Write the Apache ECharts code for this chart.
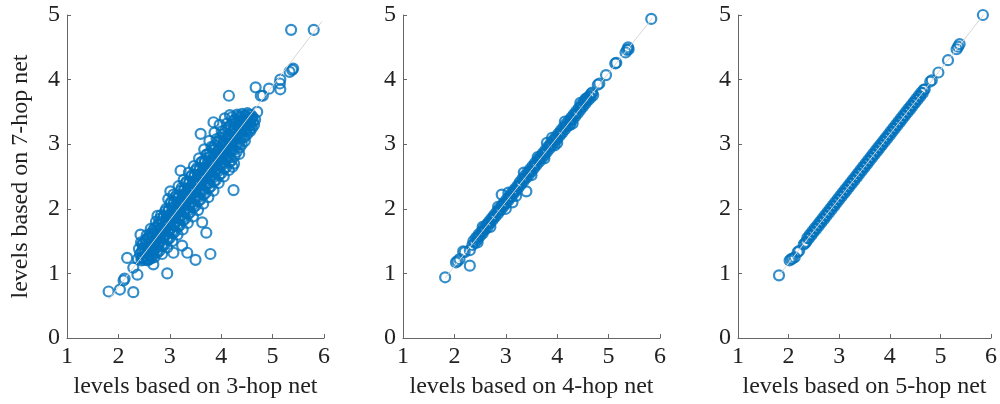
<!DOCTYPE html>
<html lang="en">
<head>
  <meta charset="UTF-8">
  <title>hop levels</title>
  <style>
    html, body { margin: 0; padding: 0; background: #fff; }
    #main { width: 1000px; height: 404px; }
  </style>
</head>
<body>
  <div id="main"></div>
  <script src="https://cdn.jsdelivr.net/npm/echarts@6/dist/echarts.min.js"></script>
  <script>
    // levels: 3-hop net (x) vs 7-hop net (y)
    var hop3Pts = [
      [1.81, 0.72], [2.03, 0.75], [2.10, 0.89], [2.12, 0.92], [2.29, 0.71], [2.37, 0.98], [2.29, 1.09], [2.17, 1.24],
      [2.68, 1.14], [2.95, 1.00], [3.07, 1.32], [3.24, 1.43], [3.34, 1.32], [3.50, 1.21], [3.79, 1.30], [3.71, 1.63],
      [3.63, 1.79], [2.43, 1.60], [2.76, 1.89], [3.01, 2.27], [3.21, 2.59], [4.22, 2.65], [4.24, 2.29], [3.60, 3.16],
      [3.85, 3.34], [4.15, 3.75], [4.70, 3.50], [4.67, 3.88], [4.77, 3.75], [4.81, 3.75], [4.93, 3.86], [5.15, 3.85],
      [5.14, 3.94], [5.15, 4.00], [5.33, 4.12], [5.38, 4.15], [5.40, 4.17], [5.36, 4.77], [5.80, 4.77],
      [2.38, 1.22], [2.42, 1.30], [2.45, 1.20], [2.40, 1.38], [2.47, 1.25],
      [2.50, 1.21], [2.52, 1.33], [2.48, 1.45], [2.55, 1.27], [2.53, 1.52], [2.57, 1.20], [2.50, 1.40],
      [2.60, 1.22], [2.62, 1.35], [2.58, 1.55], [2.65, 1.28], [2.61, 1.47], [2.64, 1.62], [2.66, 1.40], [2.59, 1.30],
      [2.70, 1.25], [2.72, 1.38], [2.68, 1.62], [2.74, 1.50], [2.71, 1.70], [2.76, 1.32], [2.69, 1.45], [2.73, 1.58],
      [2.80, 1.35], [2.82, 1.50], [2.78, 1.75], [2.84, 1.62], [2.81, 1.85], [2.86, 1.42], [2.79, 1.58], [2.83, 1.70], [2.85, 1.30],
      [2.90, 1.45], [2.92, 1.60], [2.88, 1.88], [2.94, 1.72], [2.91, 1.96], [2.96, 1.52], [2.89, 1.68], [2.93, 1.82], [2.95, 1.40],
      [3.00, 1.55], [3.02, 1.70], [2.98, 1.98], [3.04, 1.82], [3.01, 2.08], [3.06, 1.62], [2.99, 1.78], [3.03, 1.92], [3.05, 1.50], [2.97, 2.15],
      [3.10, 1.65], [3.12, 1.80], [3.08, 2.10], [3.14, 1.93], [3.11, 2.18], [3.16, 1.72], [3.09, 1.88], [3.13, 2.02], [3.15, 1.60], [3.07, 2.22],
      [3.20, 1.75], [3.22, 1.90], [3.18, 2.20], [3.24, 2.03], [3.21, 2.28], [3.26, 1.82], [3.19, 1.98], [3.23, 2.12], [3.25, 1.68], [3.17, 2.35],
      [3.30, 1.85], [3.32, 2.00], [3.28, 2.30], [3.34, 2.13], [3.31, 2.40], [3.36, 1.92], [3.29, 2.08], [3.33, 2.22], [3.35, 1.78], [3.27, 2.45],
      [3.40, 1.95], [3.42, 2.10], [3.38, 2.42], [3.44, 2.24], [3.41, 2.50], [3.46, 2.02], [3.39, 2.18], [3.43, 2.33], [3.45, 1.88], [3.37, 2.56],
      [3.50, 2.05], [3.52, 2.20], [3.48, 2.52], [3.54, 2.35], [3.51, 2.60], [3.56, 2.12], [3.49, 2.28], [3.53, 2.44], [3.55, 1.98], [3.47, 2.66],
      [3.60, 2.15], [3.62, 2.30], [3.58, 2.62], [3.64, 2.45], [3.61, 2.72], [3.66, 2.22], [3.59, 2.38], [3.63, 2.54], [3.65, 2.08], [3.57, 2.78],
      [3.70, 2.25], [3.72, 2.40], [3.68, 2.74], [3.74, 2.55], [3.71, 2.84], [3.76, 2.32], [3.69, 2.48], [3.73, 2.64], [3.75, 2.18], [3.67, 2.92],
      [3.80, 2.35], [3.82, 2.52], [3.78, 2.86], [3.84, 2.66], [3.81, 2.96], [3.86, 2.42], [3.79, 2.58], [3.83, 2.76], [3.85, 2.28], [3.77, 3.05],
      [3.90, 2.45], [3.92, 2.62], [3.88, 2.98], [3.94, 2.76], [3.91, 3.08], [3.96, 2.52], [3.89, 2.68], [3.93, 2.88], [3.95, 2.40], [3.87, 3.18],
      [4.00, 2.55], [4.02, 2.72], [3.98, 3.10], [4.04, 2.86], [4.01, 3.20], [4.06, 2.62], [3.99, 2.78], [4.03, 3.00], [4.05, 2.50], [3.97, 3.30],
      [4.10, 2.65], [4.12, 2.82], [4.08, 3.22], [4.14, 2.96], [4.11, 3.32], [4.16, 2.72], [4.09, 2.90], [4.13, 3.10], [4.15, 2.60], [4.07, 3.40],
      [4.20, 2.75], [4.22, 2.92], [4.18, 3.30], [4.24, 3.06], [4.21, 3.42], [4.26, 2.82], [4.19, 3.00], [4.23, 3.20], [4.25, 2.70], [4.17, 3.45],
      [4.30, 2.88], [4.32, 3.02], [4.28, 3.38], [4.34, 3.16], [4.31, 3.46], [4.36, 2.95], [4.29, 3.10], [4.33, 3.28], [4.35, 2.85],
      [4.40, 3.00], [4.42, 3.12], [4.38, 3.42], [4.44, 3.26], [4.41, 3.47], [4.46, 3.05], [4.39, 3.20], [4.43, 3.35],
      [4.50, 3.15], [4.52, 3.25], [4.48, 3.44], [4.54, 3.35], [4.51, 3.48], [4.56, 3.20], [4.49, 3.30],
      [4.60, 3.25], [4.62, 3.35], [4.58, 3.45], [4.64, 3.30], [4.61, 3.42], [4.66, 3.38],
      // second layer filling the dense core
      [2.45, 1.24], [2.46, 1.35], [2.44, 1.48],
      [2.55, 1.22], [2.56, 1.39], [2.54, 1.49], [2.55, 1.59],
      [2.65, 1.24], [2.66, 1.36], [2.64, 1.49], [2.65, 1.59], [2.63, 1.69],
      [2.75, 1.35], [2.76, 1.47], [2.74, 1.60], [2.75, 1.70], [2.73, 1.80],
      [2.85, 1.45], [2.86, 1.57], [2.84, 1.70], [2.85, 1.80], [2.83, 1.90],
      [2.95, 1.55], [2.96, 1.67], [2.94, 1.80], [2.95, 1.90], [2.93, 2.00],
      [3.05, 1.66], [3.06, 1.78], [3.04, 1.91], [3.05, 2.01], [3.03, 2.11],
      [3.15, 1.76], [3.16, 1.88], [3.14, 2.01], [3.15, 2.11], [3.13, 2.21],
      [3.25, 1.87], [3.26, 1.99], [3.24, 2.12], [3.25, 2.22], [3.23, 2.32],
      [3.35, 1.97], [3.36, 2.09], [3.34, 2.22], [3.35, 2.32], [3.33, 2.42],
      [3.45, 2.07], [3.46, 2.19], [3.44, 2.32], [3.45, 2.42], [3.43, 2.52],
      [3.55, 2.18], [3.56, 2.30], [3.54, 2.43], [3.55, 2.53], [3.53, 2.63],
      [3.65, 2.28], [3.66, 2.40], [3.64, 2.53], [3.65, 2.63], [3.63, 2.73],
      [3.75, 2.39], [3.76, 2.51], [3.74, 2.64], [3.75, 2.74], [3.73, 2.84],
      [3.85, 2.49], [3.86, 2.61], [3.84, 2.74], [3.85, 2.84], [3.83, 2.94],
      [3.95, 2.59], [3.96, 2.71], [3.94, 2.84], [3.95, 2.94], [3.93, 3.04],
      [4.05, 2.70], [4.06, 2.82], [4.04, 2.95], [4.05, 3.05], [4.03, 3.15],
      [4.15, 2.80], [4.16, 2.92], [4.14, 3.05], [4.15, 3.15], [4.13, 3.25],
      [4.25, 2.91], [4.26, 3.03], [4.24, 3.16], [4.25, 3.26], [4.23, 3.36],
      [4.35, 3.01], [4.36, 3.13], [4.34, 3.26], [4.35, 3.36], [4.33, 3.44],
      [4.45, 3.11], [4.46, 3.23], [4.44, 3.36], [4.45, 3.44],
      [4.55, 3.22], [4.56, 3.34], [4.54, 3.46],
      // third layer
      [2.48, 1.24], [2.48, 1.36], [2.47, 1.46],
      [2.58, 1.22], [2.58, 1.34], [2.57, 1.46], [2.58, 1.56],
      [2.68, 1.33], [2.68, 1.45], [2.67, 1.57], [2.68, 1.67],
      [2.78, 1.43], [2.78, 1.55], [2.77, 1.67], [2.78, 1.77],
      [2.88, 1.54], [2.88, 1.66], [2.87, 1.78], [2.88, 1.88],
      [2.98, 1.64], [2.98, 1.76], [2.97, 1.88], [2.98, 1.98],
      [3.08, 1.74], [3.08, 1.86], [3.07, 1.98], [3.08, 2.08],
      [3.18, 1.85], [3.18, 1.97], [3.17, 2.09], [3.18, 2.19],
      [3.28, 1.95], [3.28, 2.07], [3.27, 2.19], [3.28, 2.29],
      [3.38, 2.06], [3.38, 2.18], [3.37, 2.30], [3.38, 2.40],
      [3.48, 2.16], [3.48, 2.28], [3.47, 2.40], [3.48, 2.50],
      [3.58, 2.26], [3.58, 2.38], [3.57, 2.50], [3.58, 2.60],
      [3.68, 2.37], [3.68, 2.49], [3.67, 2.61], [3.68, 2.71],
      [3.78, 2.47], [3.78, 2.59], [3.77, 2.71], [3.78, 2.81],
      [3.88, 2.58], [3.88, 2.70], [3.87, 2.82], [3.88, 2.92],
      [3.98, 2.68], [3.98, 2.80], [3.97, 2.92], [3.98, 3.02],
      [4.08, 2.78], [4.08, 2.90], [4.07, 3.02], [4.08, 3.12],
      [4.18, 2.89], [4.18, 3.01], [4.17, 3.13], [4.18, 3.23],
      [4.28, 2.99], [4.28, 3.11], [4.27, 3.23], [4.28, 3.33],
      [4.38, 3.10], [4.38, 3.22], [4.37, 3.34], [4.38, 3.42],
      [4.48, 3.20], [4.48, 3.32], [4.47, 3.42],
      [4.58, 3.30], [4.58, 3.40]
    ];

    // levels: 4-hop net (x) vs 7-hop net (y)
    var hop4Pts = [
      [1.82, 0.94], [2.03, 1.17], [2.06, 1.19], [2.10, 1.22], [2.17, 1.34], [2.20, 1.33], [2.30, 1.12], [2.30, 1.36],
      [2.35, 1.44], [2.37, 1.50], [2.40, 1.47], [2.42, 1.55], [2.45, 1.52], [2.47, 1.60], [2.46, 1.56],
      [2.50, 1.58], [2.52, 1.64], [2.55, 1.62], [2.57, 1.70], [2.56, 1.66], [2.60, 1.68], [2.62, 1.75],
      [2.65, 1.72], [2.67, 1.80], [2.66, 1.77], [2.70, 1.78], [2.72, 1.85], [2.75, 1.83], [2.77, 1.90], [2.76, 1.87],
      [2.80, 1.88], [2.82, 1.95], [2.85, 1.93], [2.87, 2.00], [2.86, 1.97], [2.90, 1.98], [2.92, 2.05], [2.92, 2.22],
      [2.95, 2.03], [2.97, 2.10], [2.96, 2.07], [3.00, 2.08], [3.02, 2.15], [3.05, 2.13], [3.07, 2.20], [3.06, 2.17],
      [3.10, 2.18], [3.12, 2.25], [3.13, 2.10], [3.15, 2.23], [3.17, 2.30], [3.16, 2.27], [3.20, 2.28], [3.22, 2.35],
      [3.25, 2.33], [3.27, 2.41], [3.26, 2.37], [3.30, 2.38], [3.32, 2.46], [3.35, 2.43], [3.37, 2.51], [3.36, 2.47],
      [3.40, 2.48], [3.42, 2.56], [3.40, 2.27], [3.45, 2.53], [3.47, 2.61], [3.46, 2.57], [3.50, 2.58], [3.52, 2.66],
      [3.55, 2.63], [3.57, 2.71], [3.56, 2.67], [3.60, 2.68], [3.62, 2.76], [3.65, 2.73], [3.67, 2.81], [3.66, 2.77],
      [3.70, 2.78], [3.72, 2.86], [3.75, 2.83], [3.77, 2.91], [3.76, 2.87], [3.80, 2.88], [3.82, 2.96],
      [3.85, 2.93], [3.87, 3.01], [3.86, 2.97], [3.90, 2.98], [3.92, 3.06], [3.95, 3.03], [3.97, 3.11], [3.96, 3.07],
      [4.00, 3.08], [4.02, 3.16], [4.05, 3.13], [4.07, 3.21], [4.06, 3.17], [4.10, 3.18], [4.12, 3.26],
      [4.15, 3.23], [4.17, 3.31], [4.16, 3.27], [4.20, 3.28], [4.22, 3.36], [4.25, 3.33], [4.27, 3.41], [4.26, 3.37],
      [4.30, 3.38], [4.32, 3.46], [4.35, 3.43], [4.37, 3.51], [4.36, 3.47], [4.40, 3.48], [4.42, 3.56],
      [4.45, 3.53], [4.47, 3.61], [4.46, 3.57], [4.50, 3.58], [4.52, 3.66], [4.55, 3.63], [4.57, 3.71], [4.56, 3.67],
      [4.60, 3.68], [4.62, 3.74], [4.65, 3.72], [4.66, 3.78], [4.70, 3.76], [4.68, 3.80],
      [2.45, 1.48], [2.55, 1.72], [2.70, 1.72], [2.85, 2.03], [3.00, 2.00], [3.05, 2.25], [3.20, 2.20], [3.35, 2.56],
      [3.50, 2.52], [3.62, 2.80], [3.75, 2.78], [3.80, 3.02], [3.90, 3.10], [3.95, 2.98], [4.00, 3.02], [4.15, 3.35],
      [4.25, 3.30], [4.30, 3.32], [4.45, 3.64], [4.55, 3.70],
      [4.79, 3.92], [4.82, 3.94], [4.95, 4.07], [5.13, 4.25], [5.15, 4.26], [5.33, 4.42], [5.36, 4.46],
      [5.38, 4.50], [5.39, 4.47], [5.83, 4.94]
    ];

    // levels: 5-hop net (x) vs 7-hop net (y)
    var hop5Pts = [
      [1.81, 0.97], [2.02, 1.20], [2.05, 1.22], [2.08, 1.23], [2.12, 1.25], [2.18, 1.33], [2.21, 1.35], [2.30, 1.45], [2.33, 1.47],
      [2.35, 1.49], [2.37, 1.55], [2.40, 1.54], [2.42, 1.60], [2.45, 1.59], [2.47, 1.65], [2.50, 1.64], [2.52, 1.70],
      [2.55, 1.69], [2.57, 1.75], [2.60, 1.74], [2.62, 1.80], [2.65, 1.79], [2.67, 1.85], [2.70, 1.84], [2.72, 1.90],
      [2.75, 1.89], [2.77, 1.95], [2.80, 1.94], [2.82, 2.00], [2.85, 1.99], [2.87, 2.05], [2.90, 2.04], [2.92, 2.10],
      [2.95, 2.09], [2.97, 2.15], [3.00, 2.14], [3.02, 2.20], [3.05, 2.19], [3.07, 2.25], [3.10, 2.24], [3.12, 2.30],
      [3.15, 2.29], [3.17, 2.35], [3.20, 2.34], [3.22, 2.40], [3.25, 2.39], [3.27, 2.45], [3.30, 2.44], [3.32, 2.50],
      [3.35, 2.49], [3.37, 2.55], [3.40, 2.54], [3.42, 2.60], [3.45, 2.59], [3.47, 2.65], [3.50, 2.64], [3.52, 2.70],
      [3.55, 2.69], [3.57, 2.75], [3.60, 2.74], [3.62, 2.80], [3.65, 2.79], [3.67, 2.85], [3.70, 2.84], [3.72, 2.90],
      [3.75, 2.89], [3.77, 2.95], [3.80, 2.94], [3.82, 3.00], [3.85, 2.99], [3.87, 3.05], [3.90, 3.04], [3.92, 3.10],
      [3.95, 3.09], [3.97, 3.15], [4.00, 3.14], [4.02, 3.20], [4.05, 3.19], [4.07, 3.25], [4.10, 3.24], [4.12, 3.30],
      [4.15, 3.29], [4.17, 3.35], [4.20, 3.34], [4.22, 3.40], [4.25, 3.39], [4.27, 3.45], [4.30, 3.44], [4.32, 3.50],
      [4.35, 3.49], [4.37, 3.55], [4.40, 3.54], [4.42, 3.60], [4.45, 3.59], [4.47, 3.65], [4.50, 3.64], [4.52, 3.70],
      [4.55, 3.69], [4.57, 3.75], [4.60, 3.74], [4.62, 3.80], [4.65, 3.79], [4.67, 3.84], [4.69, 3.85],
      [4.80, 3.97], [4.83, 3.99], [4.96, 4.11], [5.15, 4.30], [5.32, 4.47], [5.35, 4.51], [5.38, 4.55], [5.84, 5.00]
    ];

    // thin reference lines through each cloud
    var hop3Line = [[1.82, 0.60], [5.96, 4.90]];
    var hop4Line = [[1.82, 0.93], [5.85, 4.95]];
    var hop5Line = [[1.82, 0.98], [5.85, 5.00]];

    var xNames = ['levels based on 3-hop net', 'levels based on 4-hop net', 'levels based on 5-hop net'];
    var yName = 'levels based on 7-hop net';

    var font = '"Liberation Serif", "Times New Roman", serif';
    var blue = '#0072BD';
    var gridLefts = [67, 403, 738];

    var grids = [], xAxes = [], yAxes = [], series = [];
    var pts = [hop3Pts, hop4Pts, hop5Pts];
    var lines = [hop3Line, hop4Line, hop5Line];

    for (var i = 0; i < 3; i++) {
      grids.push({ left: gridLefts[i], top: 15, width: 257, height: 326 });
      xAxes.push({
        gridIndex: i,
        type: 'value',
        min: 1, max: 6, interval: 1,
        name: xNames[i],
        nameLocation: 'middle',
        nameGap: 37,
        nameTextStyle: { fontFamily: font, fontSize: 24, color: '#222' },
        axisLine: { lineStyle: { color: '#666', width: 1 } },
        axisTick: { inside: true, length: 4, lineStyle: { color: '#666' } },
        axisLabel: { fontFamily: font, fontSize: 24, color: '#222', margin: 7 },
        splitLine: { show: false }
      });
      yAxes.push({
        gridIndex: i,
        type: 'value',
        min: 0, max: 5, interval: 1,
        name: i === 0 ? yName : '',
        nameLocation: 'middle',
        nameGap: 34,
        nameTextStyle: { fontFamily: font, fontSize: 24, color: '#222' },
        axisLine: { show: true, lineStyle: { color: '#666', width: 1 } },
        axisTick: { show: true, inside: true, length: 4, lineStyle: { color: '#666' } },
        axisLabel: { fontFamily: font, fontSize: 24, color: '#222', margin: 7 },
        splitLine: { show: false }
      });
      series.push({
        type: 'scatter',
        xAxisIndex: i, yAxisIndex: i,
        symbol: 'circle',
        symbolSize: 10,
        itemStyle: { color: 'rgba(0,0,0,0)', borderColor: blue, borderWidth: 2.2 },
        data: pts[i],
        z: 2
      });
      series.push({
        type: 'line',
        xAxisIndex: i, yAxisIndex: i,
        showSymbol: false,
        silent: true,
        lineStyle: { color: '#d6d6d6', width: 1 },
        data: lines[i],
        z: 3
      });
    }

    var chart = echarts.init(document.getElementById('main'));
    chart.setOption({
      animation: false,
      grid: grids,
      xAxis: xAxes,
      yAxis: yAxes,
      series: series
    });
  </script>
</body>
</html>
